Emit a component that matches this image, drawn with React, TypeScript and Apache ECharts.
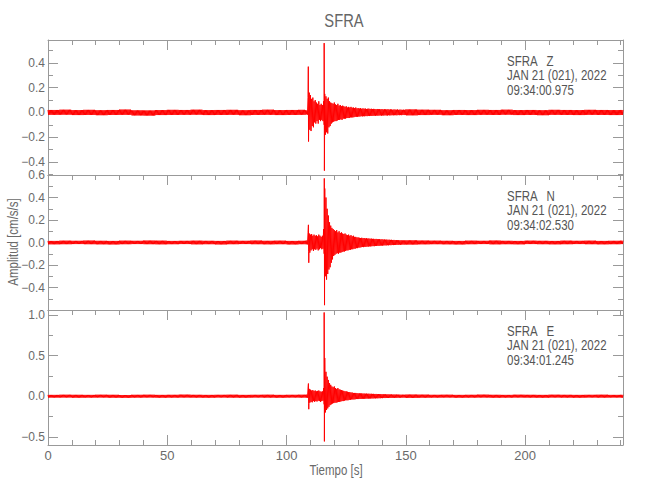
import React, { useEffect, useRef } from "react";
import * as echarts from "echarts";

// ---------------- data ----------------
const TITLE = "SFRA";
const X_NAME = "Tiempo [s]";
const Y_NAME = "Amplitud [cm/s/s]";
const T_END = 241;
const X_INTERVAL = 50;

const PANEL_TEXT = [
  ["SFRA   Z", "JAN 21 (021), 2022", "09:34:00.975"],
  ["SFRA   N", "JAN 21 (021), 2022", "09:34:02.530"],
  ["SFRA   E", "JAN 21 (021), 2022", "09:34:01.245"],
];

const Y_MIN = [-0.505, -0.6, -0.6];
const Y_MAX = [0.585, 0.6, 1.06];
const Y_MAJOR = [
  [-0.4, -0.2, 0, 0.2, 0.4],
  [-0.4, -0.2, 0, 0.2, 0.4, 0.6],
  [-0.5, 0, 0.5, 1.0],
];
const Y_MINOR = [
  [-0.5, -0.3, -0.1, 0.1, 0.3, 0.5],
  [-0.5, -0.3, -0.1, 0.1, 0.3, 0.5],
  [-0.25, 0.25, 0.75],
];

// background noise envelope, one value per 5 s bin (0 .. 245 s)
const NOISE_STEP = 5;
const zNoiseUp = [0.020,0.022,0.019,0.021,0.018,0.020,0.023,0.017,0.016,0.019,0.021,0.020,0.022,0.019,0.020,0.021,0.018,0.020,0.022,0.019,0.020,0.021,0.024,0.022,0.020,0.019,0.021,0.020,0.018,0.022,0.024,0.022,0.021,0.018,0.020,0.019,0.021,0.020,0.022,0.019,0.020,0.018,0.021,0.020,0.019,0.021,0.020,0.019,0.020];
const zNoiseLo = [-0.019,-0.018,-0.021,-0.020,-0.022,-0.020,-0.019,-0.024,-0.025,-0.021,-0.020,-0.019,-0.018,-0.021,-0.020,-0.019,-0.022,-0.020,-0.019,-0.021,-0.020,-0.019,-0.018,-0.020,-0.021,-0.022,-0.019,-0.020,-0.021,-0.019,-0.023,-0.021,-0.019,-0.022,-0.020,-0.021,-0.019,-0.020,-0.018,-0.021,-0.020,-0.022,-0.019,-0.020,-0.021,-0.019,-0.020,-0.021,-0.020];
const nNoiseUp = [0.014,0.016,0.015,0.017,0.015,0.014,0.016,0.015,0.017,0.016,0.014,0.015,0.016,0.015,0.014,0.016,0.015,0.017,0.015,0.016,0.014,0.015,0.016,0.014,0.015,0.017,0.015,0.016,0.015,0.014,0.019,0.017,0.016,0.015,0.014,0.016,0.015,0.017,0.015,0.014,0.016,0.015,0.014,0.016,0.015,0.016,0.014,0.015,0.016];
const nNoiseLo = [-0.016,-0.015,-0.014,-0.015,-0.016,-0.017,-0.015,-0.014,-0.015,-0.016,-0.015,-0.014,-0.016,-0.015,-0.017,-0.015,-0.014,-0.015,-0.016,-0.015,-0.017,-0.015,-0.014,-0.016,-0.015,-0.014,-0.016,-0.015,-0.014,-0.016,-0.018,-0.016,-0.015,-0.016,-0.017,-0.015,-0.014,-0.016,-0.015,-0.016,-0.014,-0.015,-0.016,-0.015,-0.014,-0.015,-0.016,-0.015,-0.014];
const eNoiseUp = [0.016,0.018,0.017,0.016,0.018,0.017,0.015,0.017,0.018,0.016,0.017,0.019,0.017,0.016,0.017,0.018,0.016,0.017,0.018,0.016,0.017,0.018,0.016,0.018,0.017,0.019,0.018,0.016,0.017,0.018,0.020,0.019,0.017,0.018,0.016,0.017,0.019,0.017,0.016,0.018,0.017,0.016,0.018,0.017,0.016,0.017,0.018,0.016,0.017];
const eNoiseLo = [-0.017,-0.016,-0.018,-0.017,-0.016,-0.018,-0.019,-0.017,-0.016,-0.018,-0.017,-0.016,-0.017,-0.018,-0.016,-0.017,-0.018,-0.016,-0.017,-0.018,-0.016,-0.017,-0.018,-0.016,-0.017,-0.016,-0.017,-0.018,-0.016,-0.017,-0.020,-0.018,-0.017,-0.016,-0.018,-0.017,-0.016,-0.018,-0.017,-0.016,-0.017,-0.018,-0.016,-0.017,-0.018,-0.016,-0.017,-0.016,-0.018];

// event envelope, one value per 0.5 s bin from 108.0 s to 149.5 s
const EVENT_START = 108;
const EVENT_STEP = 0.5;
const zEvUp = [0.018,0.016,0.12,0.16,0.14,0.11,0.12,0.09,0.10,0.08,0.07,0.09,0.06,0.07,0.06,
  0.09,0.15,0.13,0.11,0.12,0.09,0.08,0.075,0.07,0.08,0.065,0.06,0.07,0.055,0.06,
  0.05,0.055,0.05,0.045,0.05,0.04,0.045,0.04,0.045,0.038,0.04,0.035,0.04,0.033,0.035,
  0.032,0.035,0.03,0.033,0.03,0.032,0.028,0.03,0.031,0.028,0.03,0.027,0.029,0.028,0.026,
  0.028,0.026,0.027,0.025,0.027,0.024,0.026,0.025,0.024,0.026,0.023,0.025,0.024,0.022,0.024,
  0.023,0.022,0.024,0.021,0.023,0.022,0.021,0.022,0.021];
const zEvLo = [-0.016,-0.018,-0.10,-0.14,-0.15,-0.11,-0.12,-0.08,-0.09,-0.07,-0.09,-0.06,-0.07,-0.06,-0.07,
  -0.10,-0.18,-0.16,-0.17,-0.12,-0.11,-0.09,-0.08,-0.075,-0.07,-0.07,-0.065,-0.06,-0.06,-0.055,
  -0.06,-0.05,-0.05,-0.05,-0.045,-0.045,-0.045,-0.04,-0.04,-0.04,-0.038,-0.035,-0.035,-0.035,-0.033,
  -0.033,-0.03,-0.032,-0.03,-0.031,-0.029,-0.03,-0.028,-0.029,-0.027,-0.028,-0.027,-0.026,-0.027,-0.025,
  -0.026,-0.025,-0.024,-0.026,-0.024,-0.025,-0.023,-0.024,-0.025,-0.022,-0.024,-0.023,-0.022,-0.023,-0.022,
  -0.022,-0.023,-0.021,-0.022,-0.021,-0.022,-0.02,-0.021,-0.021];
const nEvUp = [0.016,0.018,0.09,0.08,0.07,0.075,0.06,0.07,0.06,0.065,0.055,0.07,0.06,0.05,0.06,
  0.12,0.48,0.40,0.30,0.24,0.18,0.15,0.13,0.12,0.11,0.10,0.11,0.09,0.10,0.085,
  0.09,0.08,0.075,0.08,0.07,0.065,0.07,0.06,0.065,0.055,0.06,0.05,0.05,0.045,0.045,
  0.042,0.04,0.042,0.038,0.04,0.036,0.038,0.035,0.036,0.033,0.035,0.032,0.033,0.03,0.032,
  0.03,0.029,0.03,0.027,0.029,0.026,0.027,0.025,0.026,0.024,0.025,0.023,0.024,0.022,0.023,
  0.021,0.022,0.02,0.021,0.019,0.02,0.019,0.018,0.019];
const nEvLo = [-0.016,-0.017,-0.08,-0.09,-0.07,-0.06,-0.075,-0.06,-0.065,-0.055,-0.07,-0.06,-0.05,-0.06,-0.055,
  -0.10,-0.30,-0.33,-0.28,-0.24,-0.22,-0.18,-0.15,-0.12,-0.11,-0.10,-0.095,-0.10,-0.09,-0.09,
  -0.085,-0.08,-0.08,-0.075,-0.07,-0.07,-0.065,-0.065,-0.06,-0.06,-0.055,-0.055,-0.05,-0.05,-0.045,
  -0.045,-0.042,-0.04,-0.041,-0.038,-0.039,-0.036,-0.037,-0.034,-0.035,-0.033,-0.032,-0.033,-0.03,-0.031,
  -0.029,-0.03,-0.028,-0.027,-0.028,-0.026,-0.025,-0.026,-0.024,-0.025,-0.023,-0.024,-0.022,-0.023,-0.021,
  -0.022,-0.02,-0.021,-0.019,-0.02,-0.019,-0.018,-0.019,-0.018];
const eEvUp = [0.018,0.02,0.10,0.09,0.08,0.07,0.075,0.065,0.07,0.06,0.065,0.07,0.06,0.055,0.06,
  0.10,0.47,0.30,0.24,0.20,0.16,0.14,0.12,0.11,0.12,0.10,0.09,0.10,0.085,0.08,
  0.075,0.07,0.065,0.06,0.06,0.055,0.05,0.05,0.045,0.045,0.04,0.04,0.04,0.038,0.035,
  0.036,0.034,0.035,0.032,0.033,0.031,0.032,0.03,0.031,0.029,0.03,0.028,0.029,0.027,0.028,
  0.026,0.027,0.025,0.026,0.024,0.025,0.023,0.024,0.022,0.023,0.022,0.021,0.022,0.02,0.021,
  0.02,0.021,0.019,0.02,0.019,0.018,0.019,0.018,0.018];
const eEvLo = [-0.018,-0.019,-0.09,-0.08,-0.07,-0.075,-0.06,-0.07,-0.06,-0.065,-0.055,-0.06,-0.07,-0.06,-0.055,
  -0.10,-0.20,-0.17,-0.15,-0.13,-0.11,-0.10,-0.09,-0.085,-0.08,-0.08,-0.075,-0.07,-0.07,-0.065,
  -0.06,-0.06,-0.055,-0.05,-0.05,-0.05,-0.045,-0.045,-0.04,-0.04,-0.04,-0.038,-0.035,-0.035,-0.035,
  -0.034,-0.033,-0.032,-0.031,-0.032,-0.03,-0.029,-0.03,-0.028,-0.029,-0.027,-0.028,-0.026,-0.027,-0.025,
  -0.026,-0.024,-0.025,-0.023,-0.024,-0.022,-0.023,-0.022,-0.021,-0.022,-0.02,-0.021,-0.02,-0.019,-0.02,
  -0.019,-0.02,-0.018,-0.019,-0.018,-0.017,-0.018,-0.017,-0.018];

// P and S arrival peaks [time s, amplitude]
const zSpikes = [[109.1, 0.37], [109.2, -0.235], [115.75, 0.56], [115.85, -0.47]];
const nSpikes = [[109.15, 0.157], [109.3, -0.18], [115.8, 0.57], [115.9, -0.557]];
const eSpikes = [[109.15, 0.156], [109.3, -0.16], [115.75, 1.03], [115.85, -0.556]];

// ---------------- styling / layout ----------------
const FONT = "'Liberation Sans', Arial, sans-serif";
const AXIS_COLOR = "#999999";
const TEXT_COLOR = "#6a6a6a";
const LINE_COLOR = "#ff0000";
const GRID_LEFT = 48;
const GRID_WIDTH = 575;
const GRID_TOPS = [40, 175, 310];
const GRID_H = 135;
const NARROW = 0.82;

function buildTrace(noiseUp: number[], noiseLo: number[], evUp: number[], evLo: number[], spikes: number[][]) {
  const half = EVENT_STEP / 2;
  const evEnd = EVENT_START + evUp.length * EVENT_STEP;
  const pts: number[][] = [];
  for (let k = 0; k * half <= T_END; k++) {
    const t = k * half;
    const isUp = k % 2 === 0;
    let v: number;
    if (t >= EVENT_START && t < evEnd) {
      const i = Math.floor((t - EVENT_START) / EVENT_STEP);
      v = isUp ? evUp[i] : evLo[i];
    } else {
      const i = Math.min(noiseUp.length - 1, Math.floor(t / NOISE_STEP));
      v = isUp ? noiseUp[i] : noiseLo[i];
    }
    pts.push([t, v]);
  }
  spikes.forEach((s) => pts.push(s));
  pts.sort((a, b) => a[0] - b[0]);
  return pts;
}

const fmtY = (v: number) => (v < -1e-9 ? "\u2212" : "") + Math.abs(v).toFixed(1);

function buildOption() {
  const traces = [
    buildTrace(zNoiseUp, zNoiseLo, zEvUp, zEvLo, zSpikes),
    buildTrace(nNoiseUp, nNoiseLo, nEvUp, nEvLo, nSpikes),
    buildTrace(eNoiseUp, eNoiseLo, eEvUp, eEvLo, eSpikes),
  ];
  const grids: any[] = [];
  const xAxes: any[] = [];
  const yAxes: any[] = [];
  const series: any[] = [];
  const graphics: any[] = [];
  const lineStyle = { color: AXIS_COLOR, width: 1 };
  const labelStyle = { color: TEXT_COLOR, fontFamily: FONT, fontSize: 12, lineHeight: 12 };

  for (let g = 0; g < 3; g++) {
    grids.push({ left: GRID_LEFT, top: GRID_TOPS[g], width: GRID_WIDTH, height: GRID_H, containLabel: false });
    const isLast = g === 2;
    const xBase = {
      type: "value", gridIndex: g, min: 0, max: T_END, interval: X_INTERVAL,
      splitLine: { show: false },
      axisLine: { show: true, onZero: false, lineStyle },
      minorTick: { show: true, splitNumber: 5, length: 5, lineStyle },
      axisTick: { show: true, inside: true, length: 10, lineStyle },
    };
    xAxes.push({
      ...xBase, position: "bottom",
      axisTick: { ...xBase.axisTick, show: isLast },
      minorTick: { ...xBase.minorTick, show: isLast },
      axisLabel: { show: isLast, showMaxLabel: false, margin: 4, ...labelStyle, fontSize: 13, formatter: (v: number) => String(v) },
    });
    xAxes.push({ ...xBase, position: "top", axisLabel: { show: false } });

    const yBase = {
      type: "value", gridIndex: g, min: Y_MIN[g], max: Y_MAX[g],
      splitLine: { show: false },
    };
    yAxes.push({
      ...yBase, position: "left",
      axisLine: { show: true, onZero: false, lineStyle },
      axisTick: { show: true, inside: true, length: 10, customValues: Y_MAJOR[g], lineStyle },
      axisLabel: { show: true, customValues: Y_MAJOR[g], margin: 3, ...labelStyle, formatter: fmtY },
    });
    yAxes.push({
      ...yBase, position: "right",
      axisLine: { show: true, onZero: false, lineStyle },
      axisTick: { show: true, inside: true, length: 10, customValues: Y_MAJOR[g], lineStyle },
      axisLabel: { show: false },
    });
    yAxes.push({
      ...yBase, position: "left",
      axisLine: { show: false, onZero: false },
      axisTick: { show: true, inside: true, length: 5, customValues: Y_MINOR[g], lineStyle },
      axisLabel: { show: false },
    });
    yAxes.push({
      ...yBase, position: "right",
      axisLine: { show: false, onZero: false },
      axisTick: { show: true, inside: true, length: 5, customValues: Y_MINOR[g], lineStyle },
      axisLabel: { show: false },
    });

    series.push({
      type: "line",
      xAxisIndex: 2 * g,
      yAxisIndex: 4 * g,
      data: traces[g],
      showSymbol: false,
      symbol: "none",
      lineStyle: { color: LINE_COLOR, width: 1 },
      itemStyle: { color: LINE_COLOR },
      clip: false,
      silent: true,
    });

    const lineOffsets = [21.5, 35.5, 50];
    PANEL_TEXT[g].forEach((txt, j) => {
      graphics.push({
        type: "text", x: 507, y: GRID_TOPS[g] + lineOffsets[j], scaleX: NARROW,
        style: { text: txt, fill: "#555555", font: `14px ${FONT}`, lineHeight: 13, textVerticalAlign: "middle", textAlign: "left" },
        silent: true,
      });
    });
  }

  graphics.push({
    type: "text", x: 344, y: 20, scaleX: NARROW,
    style: { text: TITLE, fill: "#666666", font: `18px ${FONT}`, textAlign: "center", textVerticalAlign: "middle" },
  });
  graphics.push({
    type: "text", x: 336, y: 470, scaleX: NARROW,
    style: { text: X_NAME, fill: TEXT_COLOR, font: `14px ${FONT}`, textAlign: "center", textVerticalAlign: "middle" },
  });
  graphics.push({
    type: "text", x: 13, y: 242, rotation: Math.PI / 2, scaleX: NARROW,
    style: { text: Y_NAME, fill: TEXT_COLOR, font: `14px ${FONT}`, textAlign: "center", textVerticalAlign: "middle" },
  });

  return {
    animation: false,
    backgroundColor: "#ffffff",
    grid: grids,
    xAxis: xAxes,
    yAxis: yAxes,
    series,
    graphic: graphics,
  };
}

export default function App() {
  const ref = useRef<HTMLDivElement>(null);
  useEffect(() => {
    if (!ref.current) return;
    const chart = echarts.init(ref.current, undefined, { renderer: "svg" });
    chart.setOption(buildOption() as any);
    return () => chart.dispose();
  }, []);
  return <div ref={ref} style={{ position: "absolute", left: 0, top: 0, width: 650, height: 500 }} />;
}
